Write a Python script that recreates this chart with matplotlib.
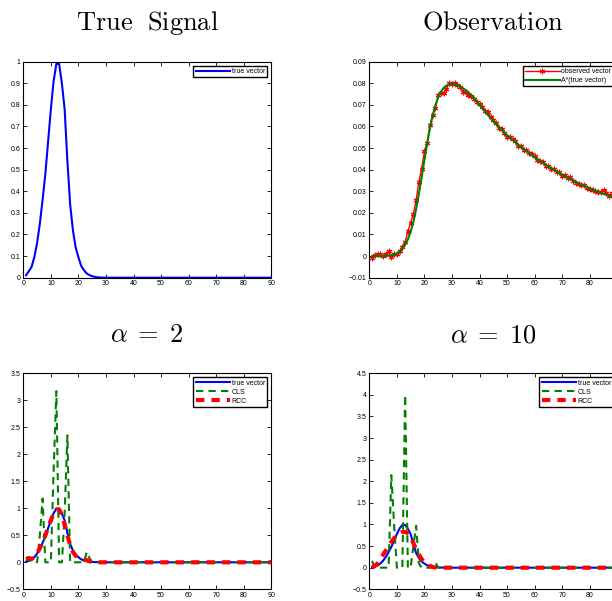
import numpy as np
import matplotlib
matplotlib.use("Agg")
import matplotlib.pyplot as plt

plt.rcParams["font.family"] = ["Liberation Sans", "DejaVu Sans"]
plt.rcParams["mathtext.fontset"] = "cm"

# sample index 1..90
x = np.arange(1, 91)

true_vec = [0.011, 0.03, 0.05, 0.095, 0.16, 0.25, 0.36, 0.48, 0.63, 0.78,
            0.91, 0.99, 0.99, 0.90, 0.78, 0.54, 0.34, 0.22, 0.14, 0.095,
            0.055, 0.035, 0.02, 0.012, 0.007, 0.004, 0.002, 0.001, 0.0005, 0.0] + [0.0] * 60

# A*(true vector)
a_true = [0.0, 0.0, 0.0, 0.0, 0.0, 0.0001, 0.0002, 0.0004, 0.0007, 0.0012,
          0.002, 0.0033, 0.0052, 0.0078, 0.0112, 0.0158, 0.0218, 0.0288, 0.0365, 0.0445,
          0.0522, 0.0592, 0.0651, 0.0698, 0.0735, 0.0761, 0.0779, 0.0790, 0.0796, 0.0797,
          0.0795, 0.0791, 0.0785, 0.0777, 0.0768, 0.0757, 0.0745, 0.0732, 0.0716, 0.0700,
          0.0685, 0.0669, 0.0654, 0.0639, 0.0625, 0.0611, 0.0598, 0.0585, 0.0572, 0.0560,
          0.0549, 0.0538, 0.0527, 0.0516, 0.0505, 0.0495, 0.0486, 0.0476, 0.0467, 0.0458,
          0.0449, 0.0440, 0.0432, 0.0423, 0.0415, 0.0407, 0.0399, 0.0392, 0.0384, 0.0377,
          0.0370, 0.0363, 0.0356, 0.0350, 0.0343, 0.0337, 0.0331, 0.0325, 0.0319, 0.0313,
          0.0308, 0.0303, 0.0298, 0.0293, 0.0288, 0.0284, 0.0279, 0.0275, 0.0270, 0.0266]

observed = [-0.0007, 0.0005, 0.001, 0.0008, 0.0, 0.0012, 0.0022, -0.0003, 0.0008, 0.0012,
            0.0025, 0.004, 0.0065, 0.0115, 0.0155, 0.0195, 0.026, 0.0345, 0.0405, 0.0485,
            0.0525, 0.0605, 0.0655, 0.0685, 0.0745, 0.0755, 0.0755, 0.0775, 0.0802, 0.0795,
            0.0803, 0.0792, 0.0785, 0.076, 0.0758, 0.0745, 0.0742, 0.0728, 0.0715, 0.0705,
            0.0690, 0.0672, 0.0668, 0.0645, 0.0628, 0.0618, 0.0592, 0.0590, 0.0568, 0.0553,
            0.0552, 0.0540, 0.0535, 0.0512, 0.0508, 0.0492, 0.0490, 0.0475, 0.0472, 0.0462,
            0.0445, 0.0438, 0.0436, 0.0418, 0.0418, 0.0405, 0.0402, 0.0390, 0.0388, 0.0372,
            0.0375, 0.0360, 0.0366, 0.0348, 0.0340, 0.0332, 0.0330, 0.0328, 0.0316, 0.0312,
            0.0305, 0.0302, 0.0296, 0.0298, 0.0306, 0.0290, 0.0278, 0.0290, 0.0276, 0.0268]

cls_a2 = [0.03, 0.07, 0.0, 0.0, 0.0, 0.5, 1.18, 0.0, 0.0, 0.0,
          1.7, 3.17, 0.0, 0.0, 0.9, 2.35, 0.0, 0.0, 0.0, 0.0,
          0.0, 0.0, 0.19, 0.08, 0.0] + [0.0] * 65
rcc_a2 = [0.06, 0.08, 0.06, 0.1, 0.17, 0.26, 0.37, 0.5, 0.64, 0.78,
          0.9, 0.98, 0.98, 0.88, 0.7, 0.5, 0.32, 0.19, 0.12, 0.08,
          0.06, 0.05, 0.04, 0.02, 0.005] + [0.0] * 65

cls_a10 = [0.16, 0.0, 0.0, 0.0, 0.0, 0.0, 0.0, 2.14, 1.0, 0.0,
           0.0, 0.0, 4.0, 0.0, 0.0, 0.5, 0.97, 0.1, 0.0, 0.0,
           0.0, 0.0, 0.1, 0.12, 0.0] + [0.0] * 65
rcc_a10 = [0.0, 0.04, 0.1, 0.2, 0.3, 0.4, 0.5, 0.6, 0.68, 0.75,
           0.80, 0.83, 0.83, 0.80, 0.71, 0.57, 0.42, 0.3, 0.2, 0.12,
           0.07, 0.035, 0.015, 0.005, 0.0] + [0.0] * 65

blue = (0, 0, 1)
green = (0, 0.5, 0)
red = (1, 0, 0)

fig = plt.figure(figsize=(6.12, 6.01), dpi=100)
W, H = 612.0, 601.0
aw, ah = 248 / W, 216 / H
ax1 = fig.add_axes([23.3 / W, 1 - 277.7 / H, aw, ah])
ax2 = fig.add_axes([369.3 / W, 1 - 277.7 / H, aw, ah])
ax3 = fig.add_axes([23.3 / W, 1 - 589.3 / H, aw, ah])
ax4 = fig.add_axes([369.3 / W, 1 - 589.3 / H, aw, ah])


def style(ax, yticks, cut=False):
    ax.set_xlim(0, 90)
    ax.set_xticks(range(0, 91, 10))
    # right column runs past the page edge, so its last label is not seen
    ax.set_xticklabels([str(v) if not (cut and v == 90) else "" for v in range(0, 91, 10)])
    ax.set_yticks(yticks)
    ax.set_ylim(yticks[0], yticks[-1])
    ax.tick_params(direction="in", length=3, width=0.6, labelsize=5, pad=2,
                   top=True, right=True)
    for s in ax.spines.values():
        s.set_linewidth(0.8)


def legend(ax):
    leg = ax.legend(loc="upper right", fontsize=5, fancybox=False, framealpha=1,
                    edgecolor="black", handlelength=5, borderpad=0.3,
                    labelspacing=0.3, handletextpad=0.2, borderaxespad=0.6)
    leg.get_frame().set_linewidth(1.0)


ax1.plot(x, true_vec, color=blue, lw=1.5, label="true vector")
style(ax1, [0, 0.1, 0.2, 0.3, 0.4, 0.5, 0.6, 0.7, 0.8, 0.9, 1])
ax1.set_yticklabels(["0", "0.1", "0.2", "0.3", "0.4", "0.5", "0.6", "0.7", "0.8", "0.9", "1"])
legend(ax1)

ax2.plot(x, observed, color=red, lw=1.0, marker=(6, 2, 0), ms=4, mew=0.8, label="observed vector")
ax2.plot(x, a_true, color=green, lw=1.5, label="A*(true vector)")
style(ax2, [-0.01, 0, 0.01, 0.02, 0.03, 0.04, 0.05, 0.06, 0.07, 0.08, 0.09], cut=True)
ax2.set_yticklabels(["\u22120.01", "0", "0.01", "0.02", "0.03", "0.04", "0.05",
                     "0.06", "0.07", "0.08", "0.09"])
legend(ax2)

for ax, cls, rcc, top, cut in [(ax3, cls_a2, rcc_a2, 3.5, False), (ax4, cls_a10, rcc_a10, 4.5, True)]:
    ax.plot(x, true_vec, color=blue, lw=1.5, label="true vector")
    ax.plot(x, cls, color=green, lw=1.5, ls=(0, (3.5, 2.5)), label="CLS")
    ax.plot(x, rcc, color=red, lw=3, ls=(0, (2, 1.7)), label="RCC")
    ticks = list(np.arange(-0.5, top + 0.01, 0.5))
    style(ax, ticks, cut=cut)
    ax.set_yticklabels(["\u22120.5" if t < 0 else ("%g" % t) for t in ticks])
    legend(ax)

fs = 19
fig.text(147 / W, 1 - 30 / H, r"$\mathrm{True\ \ Signal}$", ha="center", va="baseline", fontsize=fs)
fig.text(493 / W, 1 - 30 / H, r"$\mathrm{Observation}$", ha="center", va="baseline", fontsize=fs)
fig.text(147 / W, 1 - 342 / H, r"$\alpha\;=\;2$", ha="center", va="baseline", fontsize=fs)
fig.text(493 / W, 1 - 342 / H, r"$\alpha\;=\;10$", ha="center", va="baseline", fontsize=fs)

fig.savefig("out.png", dpi=100)
